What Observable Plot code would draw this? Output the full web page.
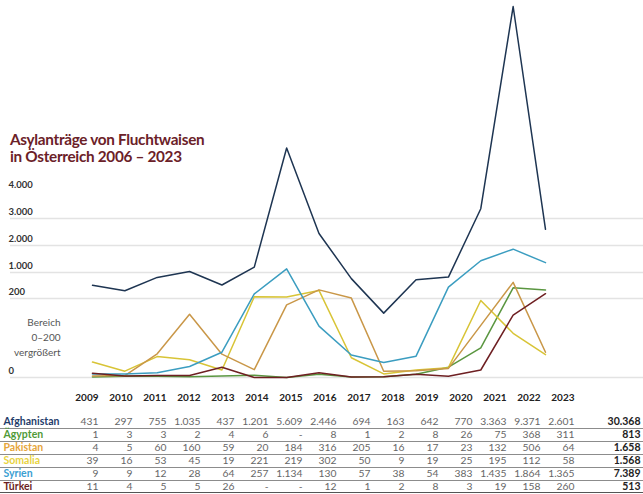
<!DOCTYPE html>
<html><head><meta charset="utf-8">
<script src="https://cdn.jsdelivr.net/npm/d3@7"></script>
<script src="https://cdn.jsdelivr.net/npm/@observablehq/plot@0.6"></script>
<style>
body{margin:0;background:#fff;}
#wrap{position:relative;width:643px;height:494px;overflow:hidden;font-family:Lato,sans-serif;background:#fff;}
#chart{position:absolute;left:0;top:0;}
#table{position:absolute;left:0;top:390px;}
#title{position:absolute;left:10px;top:131px;font-family:Lato,sans-serif;font-weight:700;font-size:15.3px;line-height:17px;color:#6b2128;letter-spacing:-0.3px;}
</style></head><body>
<div id="wrap"><div id="chart"></div><div id="table"></div>
<div id="title">Asylanträge von Fluchtwaisen<br>in Österreich 2006 – 2023</div></div>
<script>
const years = [2009,2010,2011,2012,2013,2014,2015,2016,2017,2018,2019,2020,2021,2022,2023];
const countries = ["Afghanistan","Ägypten","Pakistan","Somalia","Syrien","Türkei"];
const afghanistan = [431,297,755,1035,437,1201,5609,2446,694,163,642,770,3363,9371,2601];
const aegypten    = [1,3,3,2,4,6,null,8,1,2,8,26,75,368,311];
const pakistan    = [4,5,60,160,59,20,184,316,205,16,17,23,132,506,64];
const somalia     = [39,16,53,45,19,221,219,302,50,9,19,25,195,112,58];
const syrien      = [9,9,12,28,64,257,1134,130,57,38,54,383,1435,1864,1365];
const tuerkei     = [11,4,5,5,26,null,null,12,1,2,8,3,19,158,260];
const totals      = [30368,813,1658,1568,7389,513];
const lineColors  = ["#1e3552","#5a9640","#c99748","#d8c436","#3b9dc0","#6e1f22"];
const labelColors = ["#1f3d6b","#4f9a37","#e6a53a","#e8d33f","#3ba0d2","#6b1e22"];
const yTickValues = [0,200,1000,2000,3000,4000];
const gridValues  = [0,200,1000,2000,3000];
const zoomNote    = "Bereich\n0–200\nvergrößert";

const series = [afghanistan,aegypten,pakistan,somalia,syrien,tuerkei];
const de = d3.formatLocale({decimal:",",thousands:".",grouping:[3],currency:["","€"]});
const fmt = de.format(",d");

// broken axis: 0–200 magnified, then compressed segments above
const warp = d3.scaleLinear()
  .domain([0,200,300,500,1000,6000,9500])
  .range([0,79,87,95,105,240,376]);

const rows = [];
const drawOrder = [1,3,2,4,5,0];
for (const i of drawOrder) years.forEach((yr,j)=>rows.push({country:countries[i],year:yr,value:series[i][j] ?? 0}));

const chart = Plot.plot({
  width:643, height:385, marginLeft:10, marginRight:0, marginTop:0, marginBottom:0,
  style:{fontFamily:"Lato, sans-serif", background:"transparent"},
  x:{domain:[2009,2023], range:[92,545], axis:null},
  y:{transform:warp, domain:[0,376], range:[377,1], axis:null},
  color:{domain:countries, range:lineColors},
  marks:[
    Plot.ruleY(gridValues,{y:d=>d, stroke:"#e3e3e3", strokeWidth:1.6}),
    Plot.text(yTickValues,{y:d=>d, frameAnchor:"left", dx:-2, dy:-7, text:d=>fmt(d), textAnchor:"start", fontWeight:"bold", fontSize:9.5, fill:"#333"}),
    Plot.text([100],{y:d=>d, frameAnchor:"left", dx:50, dy:-2, text:()=>zoomNote, textAnchor:"end", lineHeight:1.5, fontSize:10, fill:"#555"}),
    Plot.line(rows,{x:"year", y:"value", z:"country", stroke:"country", strokeWidth:1.5})
  ]
});
document.getElementById("chart").appendChild(chart);

const cells = [];
countries.forEach((c,i)=>years.forEach((yr,j)=>cells.push({country:c,year:yr,v:series[i][j]})));
const totalRows = countries.map((c,i)=>({country:c,total:totals[i]}));

const table = Plot.plot({
  width:643, height:104, margin:0,
  style:{fontFamily:"Lato, sans-serif", background:"transparent"},
  x:{type:"point", domain:years, range:[93.5,578], padding:0, axis:null},
  y:{type:"point", domain:countries, range:[29,97], padding:0, axis:null},
  color:{domain:countries, range:labelColors},
  marks:[
    Plot.ruleY(countries.slice(0,5),{y:d=>d, dy:7, stroke:"#8c8c8c", strokeWidth:1}),
    Plot.ruleY(countries.slice(5),{y:d=>d, dy:6, stroke:"#555", strokeWidth:1.2}),
    Plot.text(years,{x:d=>d, frameAnchor:"top", lineAnchor:"middle", dy:7, text:d=>String(d), textAnchor:"end", fontWeight:"bold", fontSize:10, fill:"#222"}),
    Plot.text(cells,{x:"year", y:"country", text:d=>d.v==null?"-":fmt(d.v), textAnchor:"end", fontSize:10.3, fill:"#666"}),
    Plot.text(countries,{y:d=>d, frameAnchor:"left", dx:3, text:d=>d, textAnchor:"start", fontWeight:"bold", fontSize:10.5, fill:d=>d}),
    Plot.text(totalRows,{y:"country", frameAnchor:"right", dx:-3, text:d=>fmt(d.total), textAnchor:"end", fontWeight:"bold", fontSize:10.5, fill:"#222"})
  ]
});
document.getElementById("table").appendChild(table);
</script>
</body></html>
